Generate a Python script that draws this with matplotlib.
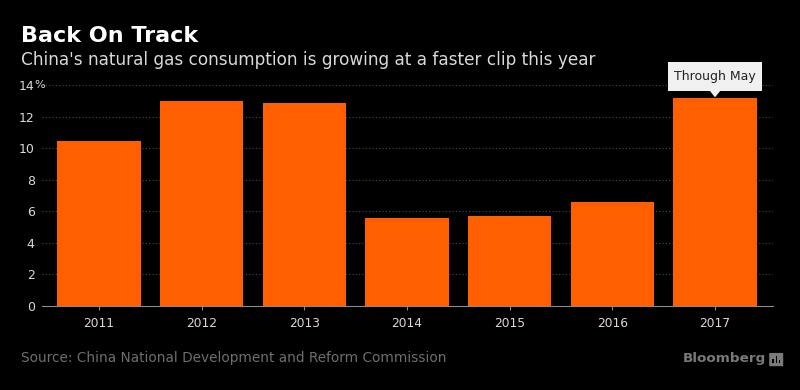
import matplotlib.pyplot as plt
import matplotlib.patches as mpatches
import matplotlib.transforms as mtransforms
import numpy as np

years = ["2011", "2012", "2013", "2014", "2015", "2016", "2017"]
growth = [10.48, 12.98, 12.88, 5.57, 5.70, 6.59, 13.17]
yticks = [0, 2, 4, 6, 8, 10, 12, 14]

BG = "black"
BAR = "#ff5f00"
GREY = "#8c8c8c"
TXT = "#d9d9d9"

fig = plt.figure(figsize=(8, 3.9), dpi=100, facecolor=BG)
ax = fig.add_axes([0.0521, 0.2154, 0.9142, 0.5667], facecolor=BG)

x = np.arange(len(years))
ax.bar(x, growth, width=0.81, color=BAR, zorder=3)

ax.set_xlim(-0.558, 6.565)
ax.set_ylim(0, 14)
ax.set_yticks(yticks)
ax.set_yticklabels([str(v) for v in yticks], color=TXT, fontsize=9)
ax.set_xticks(x)
ax.set_xticklabels(years, color=TXT, fontsize=8.8)

ax.yaxis.grid(True, linestyle=(0, (1, 2)), color="#4a4a4a", linewidth=0.8, zorder=0)
ax.set_axisbelow(True)
for s in ["top", "right", "left"]:
    ax.spines[s].set_visible(False)
ax.spines["bottom"].set_color(GREY)
ax.tick_params(axis="y", length=0, pad=5)
ax.tick_params(axis="x", length=3, color=GREY, pad=5)

# percent sign hanging after the top label
pct_tr = ax.get_yaxis_transform() + mtransforms.ScaledTranslation(-7 / 100, 0, fig.dpi_scale_trans)
ax.text(0, 14, "%", color=TXT, fontsize=8, ha="left", va="center",
        transform=pct_tr, clip_on=False)

# callout on the last bar
box_lo = growth[-1] + 0.45
box_hi = growth[-1] + 2.28
ax.add_patch(mpatches.Rectangle((x[-1] - 0.46, box_lo), 0.915, box_hi - box_lo,
                                fc="#f0f0f0", ec="none", clip_on=False, zorder=5))
ax.add_patch(mpatches.Polygon([(x[-1] - 0.05, box_lo), (x[-1] + 0.05, box_lo),
                               (x[-1], growth[-1] + 0.05)],
                              closed=True, fc="#f0f0f0", ec="none", clip_on=False, zorder=5))
ax.text(x[-1] - 0.005, (box_lo + box_hi) / 2, "Through May", ha="center", va="center",
        fontsize=9, color="#222222", zorder=6, clip_on=False)

fig.text(0.026, 0.908, "Back On Track", color="white", fontsize=16,
         fontweight="bold", ha="left", va="center")
fig.text(0.026, 0.845, "China's natural gas consumption is growing at a faster clip this year",
         color=TXT, fontsize=12.2, ha="left", va="center")
fig.text(0.026, 0.082, "Source: China National Development and Reform Commission",
         color="#6e6e6e", fontsize=9.8, ha="left", va="center")
fig.text(0.854, 0.082, "Bloomberg", color="#7a7a7a", fontsize=9.7,
         fontweight="bold", ha="left", va="center")

# small logo box
fig.patches.append(mpatches.FancyBboxPatch((0.9625, 0.062), 0.0155, 0.032,
                                           boxstyle="round,pad=0.001", transform=fig.transFigure,
                                           fc="#7a7a7a", ec="none"))
for i, h in enumerate([0.012, 0.02, 0.009]):
    fig.patches.append(mpatches.Rectangle((0.9655 + i * 0.004, 0.068), 0.002, h,
                                          transform=fig.transFigure, fc=BG, ec="none"))

fig.savefig("out.png", dpi=100, facecolor=BG)
